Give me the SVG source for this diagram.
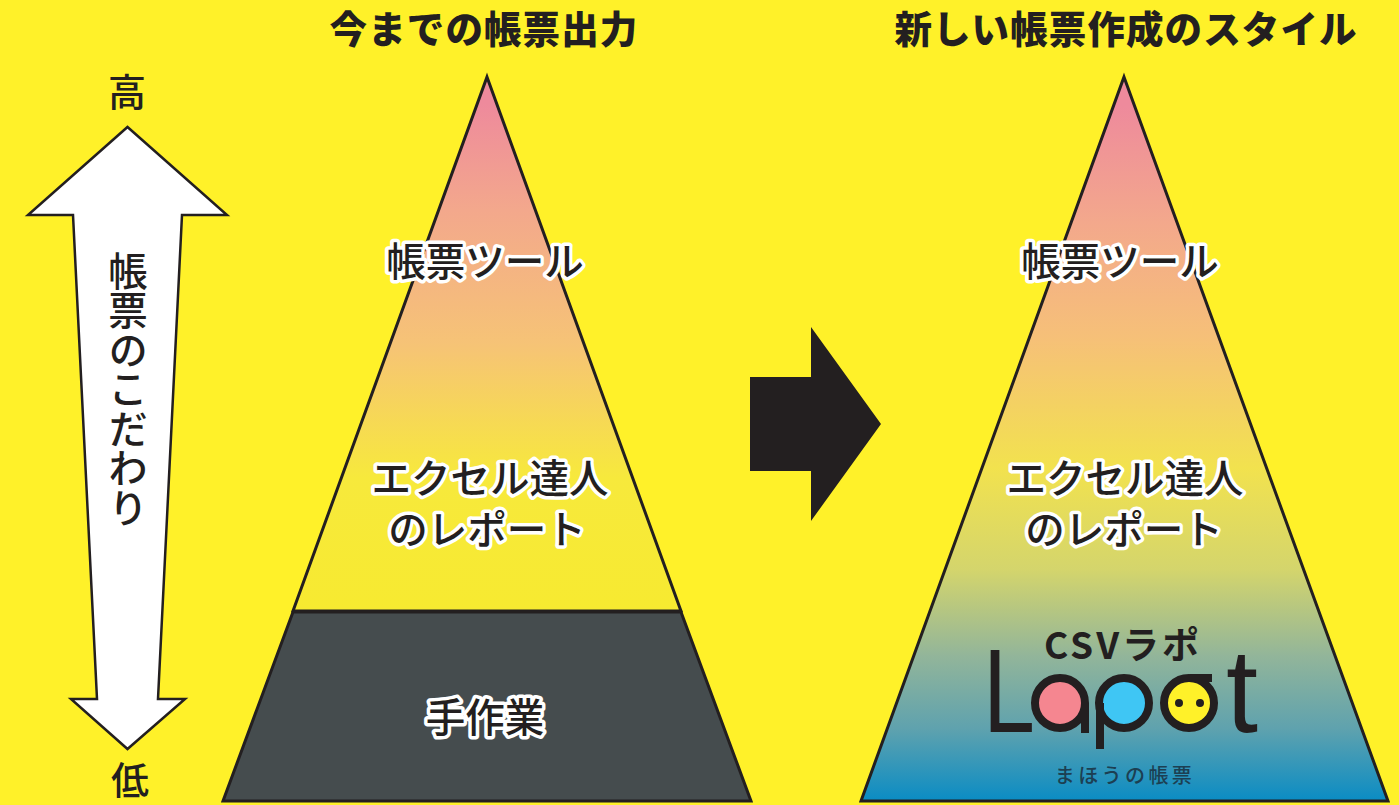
<svg xmlns="http://www.w3.org/2000/svg" width="1399" height="805" viewBox="0 0 1399 805">
<style>
text{font-family:"Noto Sans CJK JP","Noto Sans",sans-serif;fill:#231f20;text-anchor:middle}
.title{font-size:37.500px;font-weight:900;letter-spacing:1.100px}
.lab{font-size:39.500px;font-weight:500;stroke:#fff;stroke-width:7px;paint-order:stroke;stroke-linejoin:round}
.side{font-size:38px;font-weight:500}
.tri{stroke:#231f20;stroke-width:3;stroke-linejoin:miter}
.ln{stroke:#231f20;stroke-width:8;fill:none}
</style>
<defs>
<linearGradient id="g1" gradientUnits="userSpaceOnUse" x1="0" y1="77" x2="0" y2="611">
<stop offset="0.05" stop-color="#ee8a9c"/><stop offset="0.25" stop-color="#f3a88c"/><stop offset="0.5" stop-color="#f6c376"/><stop offset="0.75" stop-color="#f7e93c"/><stop offset="1" stop-color="#f7ea30"/>
</linearGradient>
<linearGradient id="g2" gradientUnits="userSpaceOnUse" x1="0" y1="77" x2="0" y2="801">
<stop offset="0.04" stop-color="#ee8a9c"/><stop offset="0.2" stop-color="#f3a88c"/><stop offset="0.36" stop-color="#f6c078"/><stop offset="0.54" stop-color="#f2e24e"/><stop offset="0.68" stop-color="#d4d56c"/><stop offset="0.8" stop-color="#92b59a"/><stop offset="0.9" stop-color="#5fa2ae"/><stop offset="1" stop-color="#0a8cc4"/>
</linearGradient>
</defs>
<rect width="1399" height="805" fill="#fff129"/>
<g id="title-left"><text class="title" x="484" y="43">今までの帳票出力</text></g>
<g id="title-right"><text class="title" x="1126" y="43">新しい帳票作成のスタイル</text></g>
<g id="scale">
<text class="side" x="127" y="106">高</text>
<polygon points="127.500,127 227,215 182,215 158,699 185,699 127.500,749 71,699 97,699 73,215 28,215" fill="#fff" stroke="#231f20" stroke-width="2.500"/>
<text class="side" style="writing-mode:vertical-rl;font-size:39.500px;text-anchor:start"><tspan x="128" y="251">帳票のこだわり</tspan></text>
<text class="side" x="130" y="794">低</text>
</g>
<g id="pyramid-left">
<polygon class="tri" points="487,77 681,611 293,611" fill="url(#g1)"/>
<polygon class="tri" points="293,612 681,612 751,801 223,801" fill="#454c4e"/>
<text class="lab" x="485" y="276">帳票ツール</text>
<text class="lab" x="490" y="493">エクセル達人</text>
<text class="lab" x="487" y="544">のレポート</text>
<text class="lab" x="485" y="732">手作業</text>
</g>
<g id="big-arrow"><polygon points="750,377 811,377 811,327 881,424 811,521 811,471 750,471" fill="#231f20"/></g>
<g id="pyramid-right">
<polygon class="tri" points="1124,77 1388,801 861,801" fill="url(#g2)"/>
<text class="lab" x="1120" y="276">帳票ツール</text>
<text class="lab" x="1125" y="493">エクセル達人</text>
<text class="lab" x="1124" y="544">のレポート</text>
</g>
<g id="logo">
<text x="1123" y="659" style="font-size:37px;font-weight:700;letter-spacing:3px">CSVラポ</text>
<text x="983" y="732" style="font-family:'Liberation Sans',sans-serif;font-size:118px;text-anchor:start" textLength="52" lengthAdjust="spacingAndGlyphs">L</text>
<circle class="ln" cx="1060" cy="703" r="25" style="fill:#f58690"/>
<line class="ln" x1="1085" y1="703" x2="1085" y2="733"/>
<circle class="ln" cx="1124" cy="703" r="25" style="fill:#3fc6f4"/>
<line class="ln" x1="1100" y1="703" x2="1100" y2="749"/>
<circle class="ln" cx="1189" cy="703" r="25" style="fill:#fff129"/>
<line class="ln" x1="1190" y1="678" x2="1212" y2="678"/>
<circle cx="1179" cy="703" r="4" fill="#231f20"/>
<circle cx="1200" cy="703" r="4" fill="#231f20"/>
<text x="1242" y="732" style="font-family:'Liberation Sans',sans-serif;font-size:118px" textLength="32" lengthAdjust="spacingAndGlyphs">t</text>
<text x="1125" y="783" style="font-size:20px;font-weight:500;letter-spacing:3.400px;fill:#1c3f52">まほうの帳票</text>
</g>
</svg>
